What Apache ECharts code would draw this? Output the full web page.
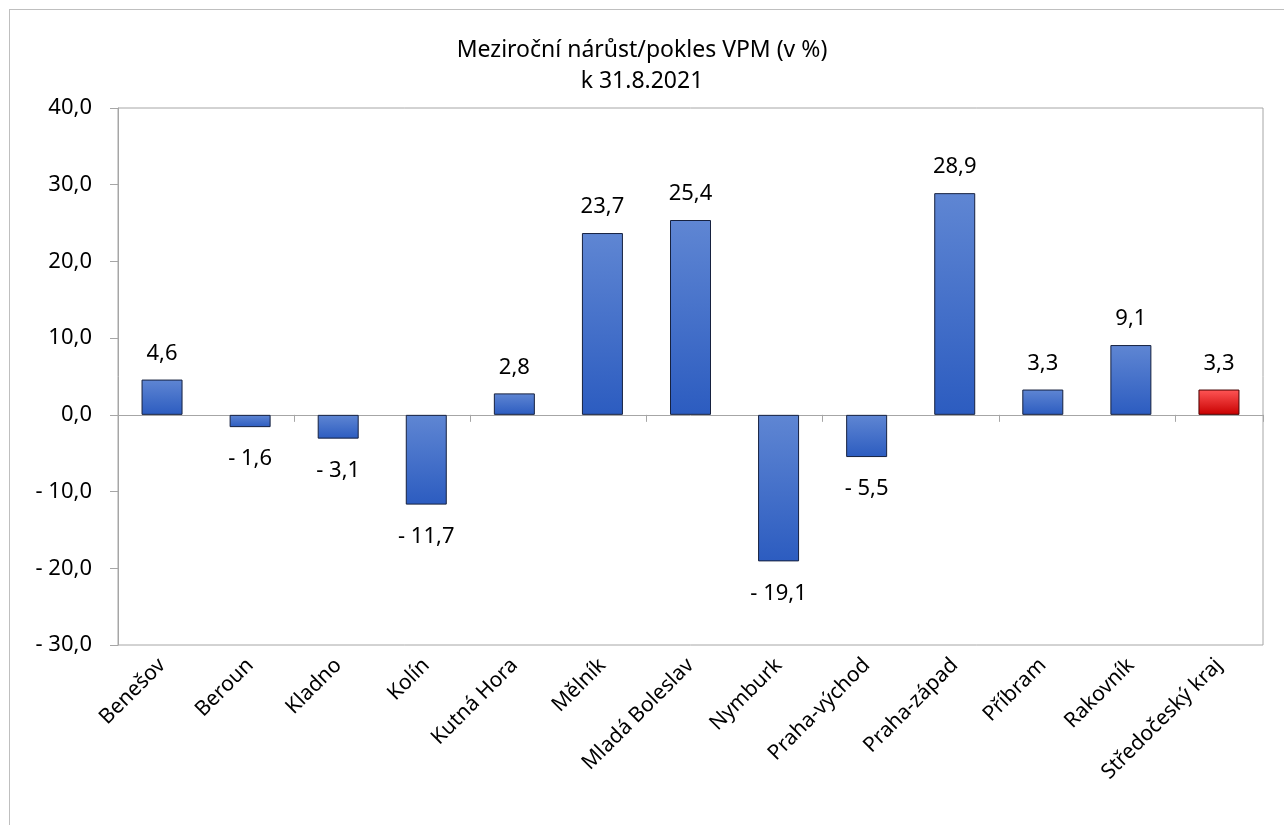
<!DOCTYPE html>
<html>
<head>
<meta charset="utf-8">
<script src="https://cdn.jsdelivr.net/npm/echarts@6/dist/echarts.min.js"></script>
<style>
  html, body { margin: 0; padding: 0; background: #fff; }
  .frame { position: absolute; left: 9px; top: 9px; width: 1290px; height: 830px; border: 1px solid #bfbfbf; }
  #chart { position: absolute; left: 0; top: 0; width: 1284px; height: 825px; }
</style>
</head>
<body>
<div class="frame"></div>
<div id="chart"></div>
<script>
const districts = ['Benešov', 'Beroun', 'Kladno', 'Kolín', 'Kutná Hora', 'Mělník', 'Mladá Boleslav',
  'Nymburk', 'Praha-východ', 'Praha-západ', 'Příbram', 'Rakovník', 'Středočeský kraj']
const changes = [4.6, -1.6, -3.1, -11.7, 2.8, 23.7, 25.4, -19.1, -5.5, 28.9, 3.3, 9.1, 3.3]
const regionTotal = 'Středočeský kraj'
const yTicks = [-30, -20, -10, 0, 10, 20, 30, 40]

const font = '"Noto Sans", "Open Sans", sans-serif'

function fmt(v) {
  const s = Math.abs(v).toFixed(1).replace('.', ',')
  return v < 0 ? '- ' + s : s
}

const blue = new echarts.graphic.LinearGradient(0, 0, 0, 1, [
  { offset: 0, color: '#5f86d3' },
  { offset: 1, color: '#2c5cc0' }
])
const red = new echarts.graphic.LinearGradient(0, 0, 0, 1, [
  { offset: 0, color: '#ff5656' },
  { offset: 1, color: '#c80000' }
])

const barData = changes.map((v, i) => {
  const isTotal = districts[i] === regionTotal
  return {
    value: v,
    itemStyle: {
      color: isTotal ? red : blue,
      borderColor: isTotal ? '#4a0000' : '#16213f',
      borderWidth: 1
    },
    label: { position: v < 0 ? 'bottom' : 'top', distance: v < 0 ? 21 : 15 }
  }
})

const chart = echarts.init(document.getElementById('chart'))
chart.setOption({
  animation: false,
  textStyle: { fontFamily: font },
  title: {
    text: 'Meziroční nárůst/pokles VPM (v %)\nk 31.8.2021',
    left: 'center',
    top: 30,
    textStyle: { fontFamily: font, fontSize: 23, fontWeight: 'normal', color: '#000', lineHeight: 31 }
  },
  grid: {
    left: 118, right: 21, top: 108, bottom: 180,
    show: true, borderColor: '#a6a6a6', borderWidth: 1,
    containLabel: false
  },
  xAxis: [{
    type: 'category',
    data: districts,
    position: 'bottom',
    axisLine: { onZero: false, show: false },
    axisTick: { show: false },
    axisLabel: { rotate: 45, margin: 17, fontSize: 21, color: '#000', fontFamily: font, interval: 0 }
  }, {
    type: 'category',
    data: districts,
    position: 'bottom',
    axisLine: { onZero: true, lineStyle: { color: '#a6a6a6', width: 1 } },
    axisTick: { show: true, length: 7, lineStyle: { color: '#a6a6a6' } },
    axisLabel: { show: false }
  }],
  yAxis: {
    type: 'value',
    min: -30,
    max: 40,
    interval: 10,
    axisLine: { show: true, lineStyle: { color: '#a6a6a6' } },
    axisTick: { show: true, length: 8, lineStyle: { color: '#a6a6a6' } },
    splitLine: { show: false },
    axisLabel: {
      fontSize: 22, color: '#000', fontFamily: font, margin: 26,
      formatter: v => yTicks.includes(v) ? fmt(v) : ''
    }
  },
  series: [{
    type: 'bar',
    xAxisIndex: 0,
    data: barData,
    barWidth: 41,
    label: {
      show: true,
      fontSize: 22,
      color: '#000',
      fontFamily: font,
      formatter: p => fmt(p.value)
    }
  }]
})
</script>
</body>
</html>
